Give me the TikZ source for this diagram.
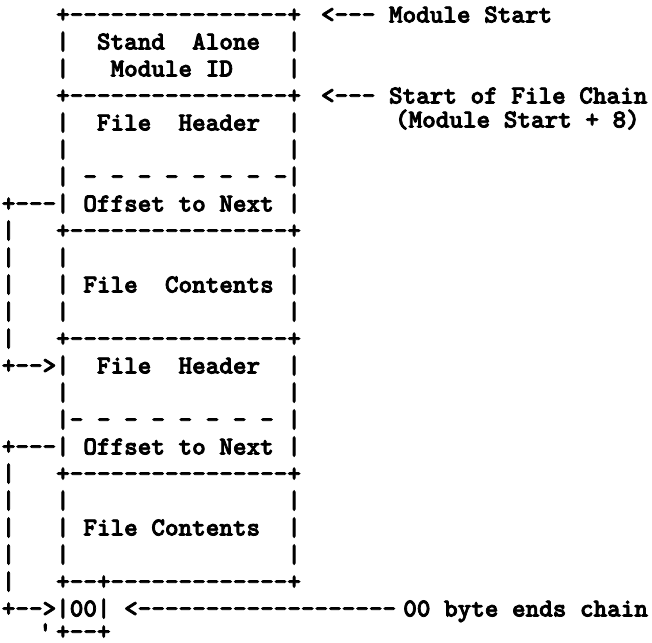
\documentclass[tikz,border=0pt]{standalone}
\usepackage{fontspec}
% dark typewriter face, thickened to a printer-like weight; TeX ligatures off so -- stays two hyphens
\newfontfamily\pmono{lmmonolt10-bold.otf}[Ligatures=TeXOff, FakeBold=3]
\begin{document}
\begin{tikzpicture}[x=1pt,y=1pt,
  ascii/.style={font=\pmono\fontsize{25.9}{27}\selectfont,
    inner sep=0pt, outer sep=0pt, anchor=base west},
  asciiR/.style={ascii, anchor=base east}]
\useasboundingbox (0,0) rectangle (652,642);
% module layout, one text row per line (column 0 starts at x = 1.8)
\node[ascii] (r0)  at (1.8,619.5) {~~~~+----------------+};
\node[ascii] (r1)  at (1.8,592.5) {~~~~|~~Stand~~Alone~~|};
\node[ascii] (r2)  at (1.8,565.5) {~~~~|~~~Module~ID~~~~|};
\node[ascii] (r3)  at (1.8,538.5) {~~~~+----------------+};
\node[ascii] (r4)  at (1.8,511.5) {~~~~|~~File~~Header~~|};
\node[ascii] (r5)  at (1.8,484.5) {~~~~|~~~~~~~~~~~~~~~~|};
\node[ascii] (r6)  at (1.8,457.5) {~~~~|~-~-~-~-~-~-~-~-|};
\node[ascii] (r7)  at (1.8,430.5) {+---|~Offset~to~Next~|};
\node[ascii] (r8)  at (1.8,403.5) {|~~~+----------------+};
\node[ascii] (r9)  at (1.8,376.5) {|~~~|~~~~~~~~~~~~~~~~|};
\node[ascii] (r10) at (1.8,349.5) {|~~~|~File~~Contents~|};
\node[ascii] (r11) at (1.8,322.5) {|~~~|~~~~~~~~~~~~~~~~|};
\node[ascii] (r12) at (1.8,295.5) {|~~~+----------------+};
\node[ascii] (r13) at (1.8,268.5) {+-->|~~File~~Header~~|};
\node[ascii] (r14) at (1.8,241.5) {~~~~|~~~~~~~~~~~~~~~~|};
\node[ascii] (r15) at (1.8,214.5) {~~~~|-~-~-~-~-~-~-~-~|};
\node[ascii] (r16) at (1.8,187.5) {+---|~Offset~to~Next~|};
\node[ascii] (r17) at (1.8,160.5) {|~~~+----------------+};
\node[ascii] (r18) at (1.8,133.5) {|~~~|~~~~~~~~~~~~~~~~|};
\node[ascii] (r19) at (1.8,106.5) {|~~~|~File~Contents~~|};
\node[ascii] (r20) at (1.8,79.5)  {|~~~|~~~~~~~~~~~~~~~~|};
\node[ascii] (r21) at (1.8,52.5)  {|~~~+--+-------------+};
\node[ascii] (r22) at (1.8,25.5)  {+-->|00|~<-------------------};
\node[ascii] (r23) at (1.8,2.5)   {~~~~+--+};
\node[ascii] (tick) at (38.5,2.5) {'};
% annotations on the right
\node[ascii] (modstart)   at (321,619.5) {<---~Module~Start};
\node[ascii] (chainstart) at (321,538.5) {<---~Start~of~File~Chain};
\node[ascii] (chainoff)   at (395,514.5) {(Module~Start~+~8)};
\node[asciiR] (endnote)   at (648,25.5)  {00~byte~ends~chain};
\end{tikzpicture}
\end{document}
